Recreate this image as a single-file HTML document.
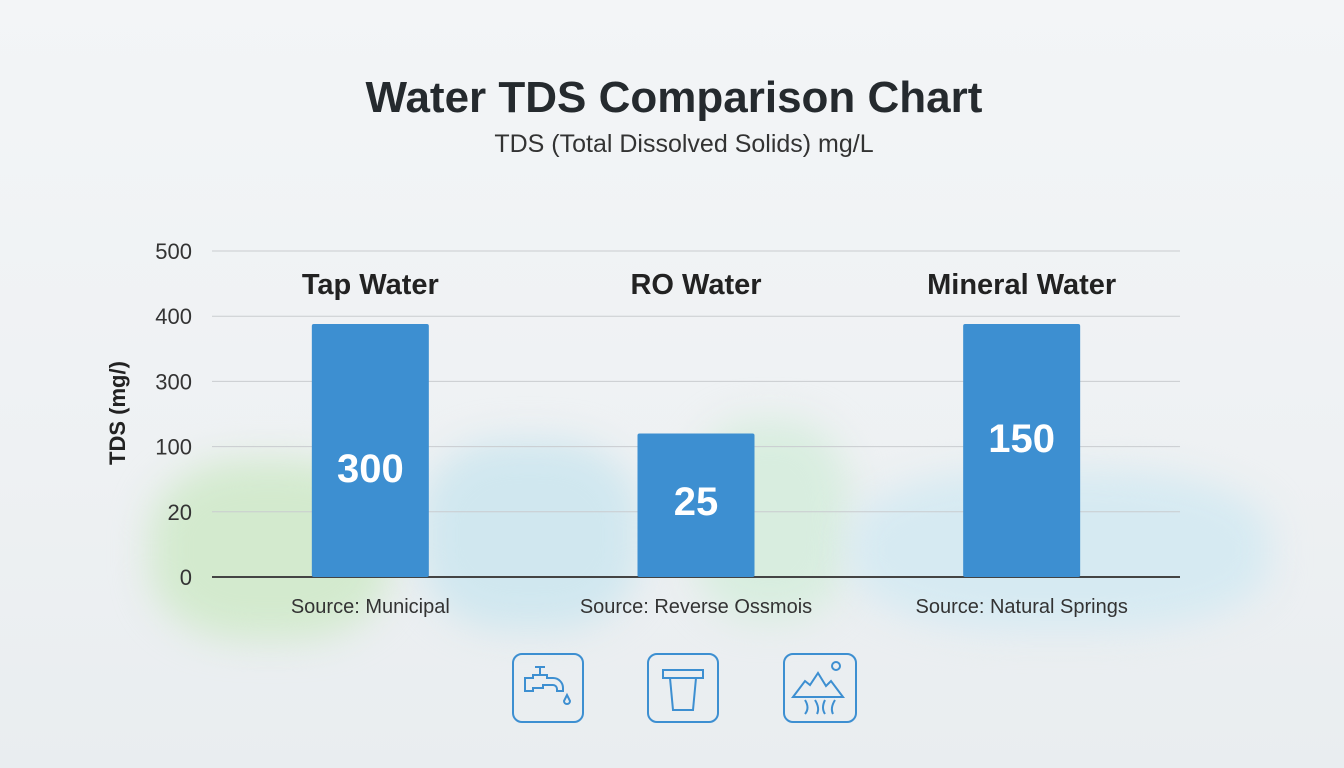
<!DOCTYPE html>
<html><head><meta charset="utf-8"><style>
html,body{margin:0;padding:0}
body{width:1344px;height:768px;overflow:hidden;position:relative;background:#eef1f3;font-family:"Liberation Sans",sans-serif}
.bg{position:absolute;filter:blur(18px);border-radius:40%}
</style></head><body>
<div style="position:absolute;inset:0;background:linear-gradient(180deg,#f3f5f7 0%,#eef1f3 60%,#e9edf0 100%)"></div>
<div class="bg" style="left:150px;top:460px;width:240px;height:180px;background:#d3eace"></div>
<div class="bg" style="left:420px;top:440px;width:220px;height:190px;background:#d0e7ef"></div>
<div class="bg" style="left:690px;top:420px;width:160px;height:200px;background:#d8eddf"></div>
<div class="bg" style="left:850px;top:470px;width:420px;height:160px;background:#d6eaf2"></div>
<svg id="chart" width="1344" height="768" style="position:absolute;left:0;top:0">
<text x="674" y="112" text-anchor="middle" font-size="44" font-weight="bold" fill="#252a2e">Water TDS Comparison Chart</text>
<text x="684" y="152" text-anchor="middle" font-size="25" fill="#333">TDS (Total Dissolved Solids) mg/L</text>
<text transform="translate(125,413) rotate(-90)" text-anchor="middle" font-size="22" font-weight="bold" fill="#222">TDS (mg/)</text>
<g id="grid"></g><g id="bars"></g>
<g fill="none" stroke="#3d8fd1" stroke-width="2">
<rect x="513" y="654" width="70" height="68" rx="9"/>
<path d="M525 678h8v-3h14v3h6a10 10 0 0 1 10 10v3h-6v-2a4 4 0 0 0-4-4h-10v3h-10v3h-8z M535 667h10 M540 667v8 M567 695l-3 6a3 3 0 0 0 6 0z"/>
<rect x="648" y="654" width="70" height="68" rx="9"/>
<path d="M663 670h40v8h-40z M670 678l3 32h20l3-32"/>
<rect x="784" y="654" width="72" height="68" rx="9"/>
<path d="M793 697l12-16 5 4 8-12 8 13 5-5 12 16z M805 700q5 8 0 14 M815 700q5 8 2 14 M825 700q-4 8 0 14 M835 700q-5 8-2 14"/><circle cx="836" cy="666" r="4"/>
</g>
</svg>
<script>
const tickLabels=["0","20","100","300","400","500"];
const categories=["Tap Water","RO Water","Mineral Water"];
const barValues=[388,220,388];
const printedValues=["300","25","150"];
const sources=["Source: Municipal","Source: Reverse Ossmois","Source: Natural Springs"];
const NS="http://www.w3.org/2000/svg";
const x0=212,x1=1180,yBase=577,yTop=251,vMax=500;
const labelFrac=[0.57,0.47,0.45];
const y=v=>yBase-(v/vMax)*(yBase-yTop);
const bw=117,step=(x1-x0)/categories.length;
const cx=i=>x0+step*(i+0.5)+(i-1)*3;
function mk(tag,attrs,parent,txt){const e=document.createElementNS(NS,tag);for(const k in attrs)e.setAttribute(k,attrs[k]);if(txt!==undefined)e.textContent=txt;parent.appendChild(e);return e;}
const grid=document.getElementById('grid'),bars=document.getElementById('bars');
tickLabels.forEach((t,i)=>{const v=i*100;const yy=y(v);
 const l=mk('line',{x1:x0,x2:x1,y1:yy,y2:yy,stroke:i===0?'#444':'#c9cccf','stroke-width':i===0?2:1},grid);
 
 
 const tx=mk('text',{x:192,y:yy+8,'text-anchor':'end','font-size':22,fill:'#333'},grid,t);
 
 
});
categories.forEach((c,i)=>{const c0=cx(i),top=y(barValues[i]);
 const r=mk('rect',{x:c0-bw/2,y:top,width:bw,height:yBase-top,fill:'#3d8fd1',rx:2},bars);
 
 
 const lb=mk('text',{x:c0,y:294,'text-anchor':'middle','font-size':29,'font-weight':'bold',fill:'#222'},bars,c);
 
 
 const vl=mk('text',{x:c0,y:top+(yBase-top)*labelFrac[i]+14,'text-anchor':'middle','font-size':40,'font-weight':'bold',fill:'#fff'},bars,printedValues[i]);
 
 
 const sl=mk('text',{x:c0,y:613,'text-anchor':'middle','font-size':20,fill:'#333'},bars,sources[i]);
 
 
});
</script>
</body></html>
